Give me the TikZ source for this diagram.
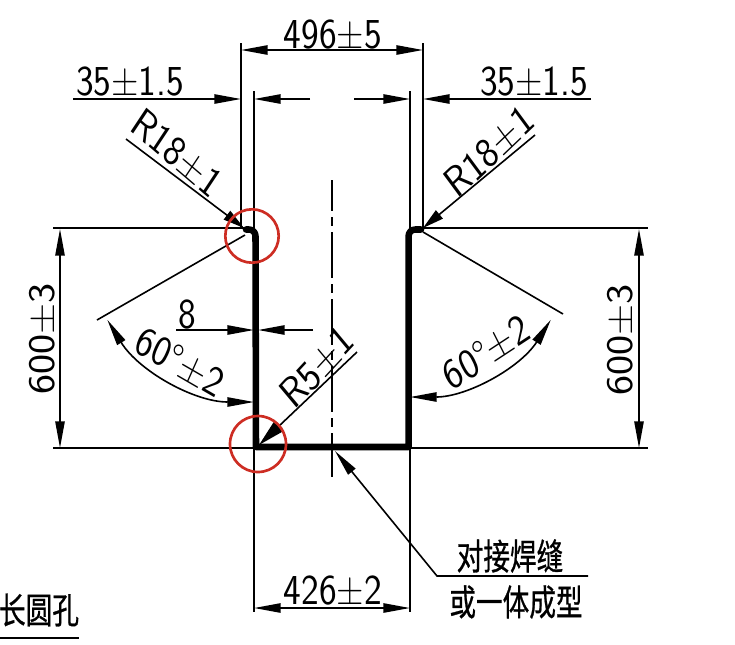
\documentclass[tikz,border=0pt]{standalone}
\usepackage{fontspec}
\newfontfamily\cjkfont[FakeBold=0.8]{Noto Sans CJK SC}
\usetikzlibrary{arrows.meta}
\definecolor{markred}{RGB}{205,45,35}
\tikzset{
    dimline/.style={line width=1.2pt, black},
    dimarrow/.style={dimline, -{Triangle[length=20pt,width=7pt]}},
    bothtips/.style={dimline, {Triangle[length=20pt,width=7pt]}-{Triangle[length=20pt,width=7pt]}},
    profile/.style={line width=4.9pt, line cap=round, line join=round},
    dimtext/.style={font=\fontsize{32}{32}\selectfont\sffamily, inner sep=0pt, xscale=.88},
    cjktext/.style={font=\fontsize{20}{20}\selectfont\cjkfont, inner sep=0pt, yscale=1.35},
    markcircle/.style={draw=markred, line width=2pt}
}
\begin{document}
\begin{tikzpicture}[x=0.75pt,y=-0.75pt]
    \useasboundingbox (0,0) rectangle (735,644);
    % extension lines
    \foreach \i in {241,423}{
        \draw[dimline] (\i,43)--(\i,229);
        };
    \foreach \i in {254,410}{
        \draw[dimline] (\i,91)--(\i,612);
        };
    \draw[dimline] (53,228)--(245,228);
    \draw[dimline] (423,228)--(648,228);
    \draw[dimline] (53,448)--(254,448);
    \draw[dimline] (410,448)--(648,448);
    % centre line
    \draw[dimline, dash pattern=on 34.5pt off 4.5pt on 6.75pt off 4.5pt, dash phase=11.25pt] (332,180)--(332,477);
    % profile
    \draw[profile] (246,229.5)--(249,229.5) arc (-90:0:6.5) -- (256,447) -- (408.6,447)
        -- (408.6,236) arc (180:270:6.5) -- (421,229.5);
    % horizontal dimensions
    \draw[bothtips] (241,50)--(423,50);
    \draw[bothtips] (254,608)--(410,608);
    \draw[dimarrow] (73,99)--(241,99);
    \draw[dimarrow] (310,99)--(254,99);
    \draw[dimarrow] (354,99)--(410,99);
    \draw[dimarrow] (591,99)--(423,99);
    \draw[dimarrow] (176,330)--(254,330);
    \draw[dimarrow] (313,330)--(258,330);
    % vertical dimensions
    \foreach \i in {60,639}{
        \draw[bothtips] (\i,229)--(\i,448);
        };
    % radius leaders
    \draw[dimline, -{Triangle[length=16pt,width=8pt]}] (126,139)--(244,228);
    \draw[dimline, -{Triangle[length=16pt,width=8pt]}] (535,135)--(423,228);
    \draw[dimline, -{Triangle[length=21pt,width=10pt]}] (357,352)--(259,445);
    % angles
    \draw[dimline] (97,320)--(245,235);
    \draw[dimline] (563,314)--(423,232);
    \draw[bothtips] (254,230) ++(148.5:172) arc (148.5:90:172);
    \draw[bothtips] (410,230) ++(32.5:167) arc (32.5:90:167);
    % weld leader
    \draw[dimline, {Triangle[length=20pt,width=7pt]}-] (335,451)--(437,576)--(588,576);
    \draw[dimline] (0,638)--(79,638);
    % red marks
    \draw[markcircle] (252,236) circle (26.7);
    \draw[markcircle] (258,444) circle (28);
    % labels
    \node[dimtext] (widthtop) at (333,34) {496±5};
    \node[dimtext] (wallleft) at (130,81) {35±1.5};
    \node[dimtext] (wallright) at (534,81) {35±1.5};
    \node[dimtext, rotate=-37] (radleft) at (177,153) {R18±1};
    \node[dimtext, rotate=40] (radright) at (489,151) {R18±1};
    \node[dimtext] (gap) at (187,314) {8};
    \node[dimtext, rotate=90] (heightleft) at (42,339) {600±3};
    \node[dimtext, rotate=90] (heightright) at (620,340) {600±3};
    \node[dimtext, rotate=-27] (angleleft) at (180,362) {60°±2};
    \node[dimtext, rotate=30] (angleright) at (486,352) {60°±2};
    \node[dimtext, rotate=43.5] (radbottom) at (317,367) {R5±1};
    \node[dimtext] (widthbottom) at (333,590) {426±2};
    \node[cjktext] (weld) at (510,556) {对接焊缝};
    \node[cjktext] (formed) at (516,602) {或一体成型};
    \node[cjktext] (slot) at (39,610) {长圆孔};
\end{tikzpicture}
\end{document}
